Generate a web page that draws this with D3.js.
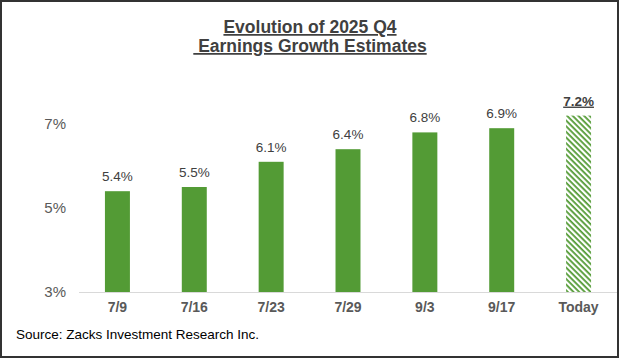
<!DOCTYPE html>
<html><head><meta charset="utf-8">
<script src="https://cdn.jsdelivr.net/npm/d3@7"></script>
<style>body{margin:0;background:#fff}svg{display:block}</style>
</head><body>
<script>
const categories = ["7/9","7/16","7/23","7/29","9/3","9/17","Today"];
const values = [5.4,5.5,6.1,6.4,6.8,6.9,7.2];
const valueLabels = ["5.4%","5.5%","6.1%","6.4%","6.8%","6.9%","7.2%"];
const yTicks = [3,5,7];
const titleLines = ["Evolution of 2025 Q4", " Earnings Growth Estimates"];
const sourceText = "Source: Zacks Investment Research Inc.";

const W = 620, H = 360;
const svg = d3.select("body").append("svg").attr("width", W).attr("height", H);
const font = "Arial, 'Liberation Sans', sans-serif";
const green = "#539B35";

const defs = svg.append("defs");
const pat = defs.append("pattern").attr("id","hatch").attr("patternUnits","userSpaceOnUse")
  .attr("width",4).attr("height",4).attr("patternTransform","rotate(45)");
pat.append("rect").attr("width",4).attr("height",4).attr("fill","#fff");
pat.append("rect").attr("x",0).attr("y",0).attr("width",4).attr("height",1.8).attr("fill",green);

svg.append("rect").attr("x",1).attr("y",1).attr("width",W-3).attr("height",H-4)
  .attr("fill","#fff").attr("stroke","#333").attr("stroke-width",2);

const x = d3.scaleBand().domain(categories).range([79,617]).paddingInner(0.675).paddingOuter(0.3375);
const y = d3.scaleLinear().domain([3,7]).range([292,124]);

// axis line
svg.append("line").attr("x1",79).attr("x2",617).attr("y1",y(3)+0.5).attr("y2",y(3)+0.5)
  .attr("stroke","#d9d9d9").attr("stroke-width",1);

// y ticks
svg.append("g").selectAll("text").data(yTicks).join("text")
  .attr("x",66).attr("y",d=>y(d)).attr("dy","0.35em").attr("text-anchor","end")
  .attr("font-family",font).attr("font-size",15).attr("fill","#595959")
  .text(d=>d+"%");

const data = categories.map((c,i)=>({c, v:values[i], l:valueLabels[i], last:i===categories.length-1}));

svg.append("g").selectAll("rect").data(data).join("rect")
  .attr("x",d=>x(d.c)).attr("width",x.bandwidth())
  .attr("y",d=>y(d.v)).attr("height",d=>y(3)-y(d.v))
  .attr("fill",d=>d.last?"url(#hatch)":green);

svg.append("g").selectAll("text").data(data).join("text")
  .attr("x",d=>x(d.c)+x.bandwidth()/2).attr("y",d=>y(d.v)-10)
  .attr("text-anchor","middle").attr("font-family",font).attr("font-size",13.5)
  .attr("fill","#404040").attr("font-weight",d=>d.last?"bold":"normal")
  .attr("text-decoration",d=>d.last?"underline":"none")
  .text(d=>d.l);

svg.append("g").selectAll("text").data(categories).join("text")
  .attr("x",d=>x(d)+x.bandwidth()/2).attr("y",312)
  .attr("text-anchor","middle").attr("font-family",font).attr("font-size",14)
  .attr("font-weight","bold").attr("fill","#595959").text(d=>d);

svg.append("g").selectAll("text").data(titleLines).join("text")
  .attr("x",310).attr("y",(d,i)=>33+i*19).attr("text-anchor","middle")
  .attr("font-family",font).attr("font-size",17.5).attr("font-weight","bold")
  .attr("fill","#404040").attr("text-decoration","underline")
  .attr("xml:space","preserve").style("white-space","pre").text(d=>d);

svg.append("text").attr("x",16).attr("y",339).attr("font-family",font).attr("font-size",13.5)
  .attr("fill","#000").text(sourceText);
</script>
</body></html>
